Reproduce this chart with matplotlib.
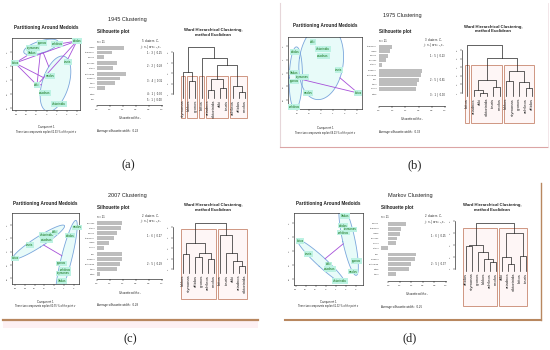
import numpy as np
import matplotlib
matplotlib.use("Agg")
import matplotlib.pyplot as plt
from matplotlib.patches import Rectangle

plt.rcParams['font.family'] = ['Liberation Sans', 'DejaVu Sans']
plt.rcParams['mathtext.fontset'] = 'custom'
plt.rcParams['mathtext.rm'] = 'Liberation Sans'
plt.rcParams['mathtext.it'] = 'Liberation Sans:italic'

# ---------------- data ----------------
panel_titles = ["1945 Clustering", "1975 Clustering", "2007 Clustering", "Markov Clustering"]
panel_tags = ["(a)", "(b)", "(c)", "(d)"]
explained = [62.93, 68.23, 60.55, 61.32]

# PAM (clusplot) component scores
pam45_x = [-0.45, 1.03, 3.0, -1.33, -1.43, -3.1, 2.12, 0.34, -0.94, -0.15, 1.23]
pam45_y = [2.64, 2.57, 2.79, 2.29, 1.93, 1.21, 1.29, 0.29, -0.36, -0.93, -1.71]
pam45_cl = [0, 0, 2, 0, 0, 3, 1, 1, 4, 1, 1]
pam45_lab = ['gronos', 'achileos', 'aftidos', 'stymonas', 'lakkos', 'kritos',
             'touris', 'neolos', 'aliki', 'ariadnos', 'viktorinida']

pam75_x = [-0.67, 0.17, 0.17, -2.17, 1.5, -2.25, -1.58, -2.25, -1.08, -2.25, 3.08]
pam75_y = [2.33, 1.80, 1.28, 1.58, 0.23, 0.02, -0.30, -0.62, -1.50, -2.56, -1.50]
pam75_cl = [1, 1, 1, 0, 1, 0, 0, 0, 1, 0, 2]
pam75_lab = ['aliki', 'viktorinida', 'ariadnos', 'aftidos', 'touris', 'lakkos',
             'stymonas', 'gronos', 'neolos', 'achileos', 'kritos']

pam07_x = [-4.0, -2.47, -0.77, 0.08, -0.77, 2.30, 1.61, 0.77, 1.12, 0.95, 0.77]
pam07_y = [-0.50, 0.50, 1.26, 1.46, 0.88, 1.83, 1.20, -0.87, -1.38, -1.62, -2.20]
pam07_cl = [0, 0, 0, 0, 0, 1, 1, 1, 1, 1, 1]
pam07_lab = ['kritos', 'touris', 'viktorinida', 'aliki', 'ariadnos', 'neolos',
             'aftidos', 'gronos', 'achileos', 'stymonas', 'lakkos']

pamMk_x = [1.93, 1.76, 2.43, 1.76, -2.57, -1.74, 0.26, 0.43, 1.43, 3.1, 2.76]
pamMk_y = [2.5, 1.80, 1.55, 1.30, 0.71, -0.21, -0.95, -1.28, -2.14, -0.71, -1.48]
pamMk_cl = [1, 1, 1, 1, 0, 0, 0, 0, 0, 1, 1]
pamMk_lab = ['lakkos', 'aftidos', 'stymonas', 'achileos', 'kritos', 'touris',
             'aliki', 'ariadnos', 'viktorinida', 'gronos', 'neolos']

# Silhouette widths (cluster sizes + widths sorted within clusters)
sil45_sizes = [3, 2, 4, 1, 1]
sil45_w = [0.41, 0.23, 0.10, 0.31, 0.25, 0.45, 0.36, 0.28, 0.13, 0.0, 0.0]
sil45_rows = ['lakkos', 'stymonas', 'gronos', 'achileos', 'aftidos', 'viktorinida',
              'ariadnos', 'touris', 'neolos', 'kritos', 'aliki']
sil75_sizes = [5, 5, 1]
sil75_w = [0.19, 0.16, 0.14, 0.11, 0.05, 0.65, 0.63, 0.61, 0.58, 0.56, 0.0]
sil75_rows = ['stymonas', 'lakkos', 'gronos', 'achileos', 'aftidos', 'ariadnos',
              'viktorinida', 'aliki', 'touris', 'neolos', 'kritos']
sil07_sizes = [6, 5]
sil07_w = [0.38, 0.37, 0.30, 0.26, 0.19, 0.11, 0.38, 0.38, 0.36, 0.30, 0.05]
sil07_rows = ['achileos', 'aftidos', 'gronos', 'stymonas', 'lakkos', 'neolos',
              'aliki', 'ariadnos', 'viktorinida', 'touris', 'kritos']
silMk_sizes = [6, 5]
silMk_w = [0.31, 0.22, 0.20, 0.15, 0.13, -0.13, 0.48, 0.46, 0.40, 0.36, 0.13]
silMk_rows = ['gronos', 'stymonas', 'lakkos', 'achileos', 'neolos', 'aftidos',
              'aliki', 'ariadnos', 'viktorinida', 'kritos', 'touris']

# Ward dendrograms: leaf order, merges (scipy-like node ids), heights
den45_leaves = ['stymonas', 'lakkos', 'gronos', 'kritos', 'ariadnos', 'viktorinida',
                'aliki', 'touris', 'achileos', 'aftidos', 'neolos']
den45_left = [1, 0, 4, 6, 13, 9, 8, 15, 3, 12]
den45_right = [2, 11, 5, 7, 14, 10, 16, 17, 18, 19]
den45_h = [2.2, 3.1, 1.4, 1.6, 2.4, 1.2, 1.8, 3.8, 4.4, 5.5]
den45_k = 5

den75_leaves = ['kritos', 'ariadnos', 'aliki', 'viktorinida', 'touris', 'neolos',
                'lakkos', 'stymonas', 'gronos', 'achileos', 'aftidos']
den75_left = [2, 1, 4, 12, 6, 9, 8, 15, 14, 0]
den75_right = [3, 11, 5, 13, 7, 10, 16, 17, 18, 19]
den75_h = [1.0, 1.35, 1.7, 2.5, 2.4, 1.6, 2.3, 3.5, 5.1, 6.6]
den75_k = 3

den07_leaves = ['lakkos', 'stymonas', 'aftidos', 'gronos', 'achileos', 'neolos',
                'kritos', 'touris', 'aliki', 'ariadnos', 'viktorinida']
den07_left = [0, 2, 4, 12, 11, 9, 8, 7, 6, 15]
den07_right = [1, 3, 5, 13, 14, 10, 16, 17, 18, 19]
den07_h = [2.4, 2.15, 1.95, 2.5, 3.45, 1.3, 1.76, 2.5, 4.24, 5.4]
den07_k = 2

denMk_leaves = ['aftidos', 'stymonas', 'gronos', 'lakkos', 'achileos', 'neolos',
                'aliki', 'ariadnos', 'viktorinida', 'kritos', 'touris']
denMk_left = [0, 4, 3, 2, 11, 7, 6, 9, 17, 15]
denMk_right = [1, 5, 12, 13, 14, 8, 16, 10, 18, 19]
denMk_h = [2.9, 1.55, 1.83, 2.4, 3.0, 1.4, 2.0, 2.05, 4.0, 4.83]
denMk_k = 2

# ---------------- drawing helpers ----------------
W, H = 550, 350
fig = plt.figure(figsize=(5.5, 3.5), dpi=100)
bg = fig.add_axes([0, 0, 1, 1], zorder=-10)
bg.set_xlim(0, W)
bg.set_ylim(H, 0)
bg.axis('off')

TXT = '#222222'


def T(x, y, s, **kw):
    kw.setdefault('ha', 'center')
    kw.setdefault('va', 'center')
    kw.setdefault('color', TXT)
    bg.text(x, y, s, **kw)


def add_px_axes(x0, y0, x1, y1):
    return fig.add_axes([x0 / W, 1 - y1 / H, (x1 - x0) / W, (y1 - y0) / H])


def draw_pam(box, xlim, ylim, xticks, yticks, xs, ys, cl, labs, pct, title_y, comp_y):
    x0, y0, x1, y1 = box
    ax = add_px_axes(*box)
    ax.set_xlim(*xlim)
    ax.set_ylim(*ylim)
    P = np.column_stack([xs, ys])
    cl = np.asarray(cl)
    centers, shapes = [], []
    for k in sorted(set(cl)):
        Q = P[cl == k]
        c = Q.mean(0)
        M = None
        if len(Q) > 1:
            C = np.cov(Q.T) + np.eye(2) * 0.04
            Ci = np.linalg.inv(C)
            d = Q - c
            m = np.max(np.einsum('ij,jk,ik->i', d, Ci, d))
            M = C * m * 1.1
            vals, vecs = np.linalg.eigh(M)
            t = np.linspace(0, 2 * np.pi, 120)
            E = c[:, None] + vecs @ (np.sqrt(vals)[:, None] * np.vstack([np.cos(t), np.sin(t)]))
            ax.fill(E[0], E[1], color='#e8fbf9', lw=0, zorder=1)
            ax.plot(E[0], E[1], color='#7aa6dc', lw=0.6, zorder=2)
        centers.append(c)
        shapes.append(M)
    for i in range(len(centers)):
        for j in range(i + 1, len(centers)):
            d = centers[j] - centers[i]
            ti = 0 if shapes[i] is None else 1 / np.sqrt(d @ np.linalg.inv(shapes[i]) @ d)
            tj = 0 if shapes[j] is None else 1 / np.sqrt(d @ np.linalg.inv(shapes[j]) @ d)
            if ti + tj < 1:
                a = centers[i] + ti * d
                b = centers[j] - tj * d
                ax.plot([a[0], b[0]], [a[1], b[1]], color='#a64fd9', lw=0.6, zorder=3)
    for x, y, s in zip(xs, ys, labs):
        ax.text(x, y, s, fontsize=2.1, color='#0a6a0a', ha='center', va='center', zorder=4,
                bbox=dict(boxstyle='square,pad=0.25', fc='#bdf2e3', ec='none'))
    ax.set_xticks(xticks)
    ax.set_yticks(yticks)
    ax.tick_params(labelsize=1.7, length=1.5, width=0.35, pad=1.2, colors='#333333')
    for lbl in ax.get_yticklabels():
        lbl.set_rotation(90)
        lbl.set_va('center')
    for s in ax.spines.values():
        s.set_linewidth(0.5)
        s.set_color('#333333')
    cx = (x0 + x1) / 2
    T(cx, title_y, "Partitioning Around Medoids", fontsize=3.3, fontweight='bold')
    T(cx, comp_y, "Component 1", fontsize=2.0)
    T(cx, comp_y + 4.5, f"These two components explain {pct:.2f} % of the point v", fontsize=1.8)


def draw_sil(zero_px, one_px, first_px, unit_px, axis_px, sizes, widths, rows, title_y, n_y):
    widths = np.asarray(widths, dtype=float)
    xmin = min(0.0, widths.min())
    scale = one_px - zero_px
    left_px = zero_px + xmin * scale
    gap = 0.3
    pos, p = [], 0.0
    for n in sizes:
        for _ in range(n):
            pos.append(p)
            p += 1
        p += gap
    pos = np.array(pos)
    top_val = -0.7
    bot_val = (axis_px - first_px) / unit_px
    top_px = first_px + top_val * unit_px
    ax = add_px_axes(left_px, top_px, one_px, axis_px)
    ax.set_facecolor('none')
    ax.set_xlim(xmin, 1)
    ax.set_ylim(bot_val, top_val)
    ax.barh(pos, widths, height=0.8, color='#bdbdbd', lw=0)
    for s in ['top', 'right', 'left']:
        ax.spines[s].set_visible(False)
    ax.spines['bottom'].set_bounds(0, 1)
    ax.spines['bottom'].set_linewidth(0.4)
    ax.set_yticks([])
    ticks = np.linspace(0, 1, 6)
    ax.set_xticks(ticks)
    ax.set_xticklabels([f"{t:.1f}" for t in ticks])
    ax.tick_params(labelsize=1.7, length=1.5, width=0.35, pad=1.5, colors='#333333')
    for y, name in zip(pos, rows):
        ax.text(xmin - 0.03, y, name, ha='right', va='center', fontsize=1.6,
                color='#444444', clip_on=False)
    start = 0
    for j, n in enumerate(sizes):
        seg = slice(start, start + n)
        ax.text(1.0, pos[seg].mean(), f"{j + 1} :  {n}  |  {widths[seg].mean():.2f}",
                ha='right', va='center', fontsize=1.9, color=TXT)
        start += n
    T(left_px, title_y, "Silhouette plot", fontsize=3.3, fontweight='bold', ha='left')
    T(left_px, n_y, f"n = {len(widths)}", fontsize=2.0, ha='left')
    T(one_px - 3, n_y - 1.5, f"{len(sizes)}  clusters  $C_j$", fontsize=2.0, ha='right')
    T(one_px, n_y + 5, r"$j$ :  $n_j$ | ave$_{i\in C_j}$ $s_i$", fontsize=2.0, ha='right')
    T((zero_px + one_px) / 2, axis_px + 13.5, r"Silhouette width  $s_i$", fontsize=1.9)
    T(left_px, axis_px + 26, f"Average silhouette width :  {widths.mean():.2f}",
      fontsize=2.1, ha='left')


def draw_dendro(axis_px, leaf0_px, step_px, y0_px, ppu, rect_bottom_px, leaves,
                left, right, h, k, base, nticks, title_x, title_y):
    n = len(leaves)
    hmax = max(h) + 0.08
    top_px = y0_px - hmax * ppu
    right_px = leaf0_px + n * step_px
    ax = add_px_axes(axis_px, top_px, right_px, rect_bottom_px)
    ax.set_facecolor('none')
    ax.set_xlim((axis_px - leaf0_px) / step_px, n)
    ylo = (y0_px - rect_bottom_px) / ppu
    ax.set_ylim(ylo, hmax)
    pos = {i: (i, base) for i in range(n)}
    for m, (a, b, hh) in enumerate(zip(left, right, h)):
        xa, ya = pos[a]
        xb, yb = pos[b]
        ax.plot([xa, xa, xb, xb], [ya, hh, hh, yb], color='#222222', lw=0.5, zorder=3)
        pos[n + m] = ((xa + xb) / 2, hh)
    hs = sorted(h, reverse=True)
    cut = (hs[k - 2] + hs[k - 1]) / 2

    def members(node):
        if node < n:
            return [node]
        return members(left[node - n]) + members(right[node - n])

    def split(node):
        if node >= n and h[node - n] > cut:
            return split(left[node - n]) + split(right[node - n])
        return [members(node)]

    for g in split(n + len(h) - 1):
        lo, hi = min(g) - 0.34, max(g) + 0.33
        ax.add_patch(Rectangle((lo, ylo + 0.02), hi - lo, cut - ylo - 0.02,
                               fc='#fef6f6', ec='#cf9682', lw=0.7, zorder=1, clip_on=False))
    for i, name in enumerate(leaves):
        ax.text(i, base - 1.5 / ppu, name, rotation=90, ha='center', va='top',
                fontsize=3.0, color=TXT, zorder=4)
    for s in ['top', 'right', 'bottom']:
        ax.spines[s].set_visible(False)
    ax.spines['left'].set_bounds(1, nticks)
    ax.spines['left'].set_linewidth(0.4)
    ax.set_xticks([])
    ax.set_yticks(range(1, nticks + 1))
    ax.tick_params(labelsize=1.7, length=1.5, width=0.35, pad=1.2, colors='#333333')
    for lbl in ax.get_yticklabels():
        lbl.set_rotation(90)
        lbl.set_va('center')
    T(title_x, title_y, "Ward Hierarchical Clustering,", fontsize=3.1, fontweight='bold')
    T(title_x, title_y + 4.8, "method Euclidean", fontsize=3.1, fontweight='bold')


# ---------------- frames ----------------
bg.plot([280, 280], [3, 147], color='#e6d6d9', lw=0.8)
bg.plot([280, 548], [147, 147], color='#dba5a5', lw=0.8)
bg.plot([548, 548], [3, 147], color='#f0e2e5', lw=0.6)
bg.fill_between([3, 258], 320, 328, color='#fdf0f3', lw=0)
bg.plot([3, 258], [320, 320], color='#b8875f', lw=1.6)
bg.plot([541, 541], [183, 320], color='#b8875f', lw=1.0)
bg.plot([285, 541], [320, 320], color='#b8875f', lw=1.5)

# ---------------- panel (a) 1945 ----------------
T(127, 20, panel_titles[0], fontsize=4.0)
draw_pam((12, 38, 80, 110), (-3.4, 3.3), (-2.14, 3.0), range(-3, 4), range(-2, 3),
         pam45_x, pam45_y, pam45_cl, pam45_lab, explained[0], 28, 127)
draw_sil(97, 162, 48, 4.64, 105, sil45_sizes, sil45_w, sil45_rows, 32, 42)
draw_dendro(173, 183, 6.2, 104.5, 10.5, 118, den45_leaves, den45_left, den45_right,
            den45_h, den45_k, 0.6, 5, 213, 30)
T(128, 165, panel_tags[0], fontsize=9, family=['Liberation Serif', 'DejaVu Serif'])

# ---------------- panel (b) 1975 ----------------
T(402, 16, panel_titles[1], fontsize=4.0)
draw_pam((288, 37, 362, 109), (-2.75, 3.42), (-2.7, 2.7), range(-2, 4), range(-2, 3),
         pam75_x, pam75_y, pam75_cl, pam75_lab, explained[1], 26, 128.3)
draw_sil(379, 445, 46.7, 4.53, 106, sil75_sizes, sil75_w, sil75_rows, 31.7, 40.7)
draw_dendro(462, 467, 6.5, 101.6, 8.6, 123, den75_leaves, den75_left, den75_right,
            den75_h, den75_k, 0.6, 6, 493, 26.7)
T(415, 165.5, panel_tags[1], fontsize=9, family=['Liberation Serif', 'DejaVu Serif'])

# ---------------- panel (c) 2007 ----------------
T(127, 195, panel_titles[2], fontsize=4.0)
draw_pam((12, 213, 79, 284), (-4.31, 2.53), (-2.43, 2.91), range(-4, 3), range(-2, 3),
         pam07_x, pam07_y, pam07_cl, pam07_lab, explained[2], 203.3, 301.7)
draw_sil(97, 162, 223.3, 4.92, 279.3, sil07_sizes, sil07_w, sil07_rows, 207.7, 216.7)
draw_dendro(173, 183, 6.2, 279.5, 10.5, 299, den07_leaves, den07_left, den07_right,
            den07_h, den07_k, 0.6, 5, 213, 205)
T(130, 339, panel_tags[2], fontsize=9, family=['Liberation Serif', 'DejaVu Serif'])

# ---------------- panel (d) Markov ----------------
T(410, 195, panel_titles[3], fontsize=4.0)
draw_pam((294, 213, 363, 285), (-3.17, 3.73), (-2.43, 2.71), range(-3, 4), range(-2, 3),
         pamMk_x, pamMk_y, pamMk_cl, pamMk_lab, explained[3], 203.3, 301.7)
draw_sil(388.3, 445.7, 224, 4.85, 281, silMk_sizes, silMk_w, silMk_rows, 207.7, 217.3)
draw_dendro(455, 465.5, 6.0, 280.3, 12, 306, denMk_leaves, denMk_left, denMk_right,
            denMk_h, denMk_k, 0.8, 5, 492, 205)
T(410, 338.5, panel_tags[3], fontsize=9, family=['Liberation Serif', 'DejaVu Serif'])

fig.savefig("out.png", dpi=100)
